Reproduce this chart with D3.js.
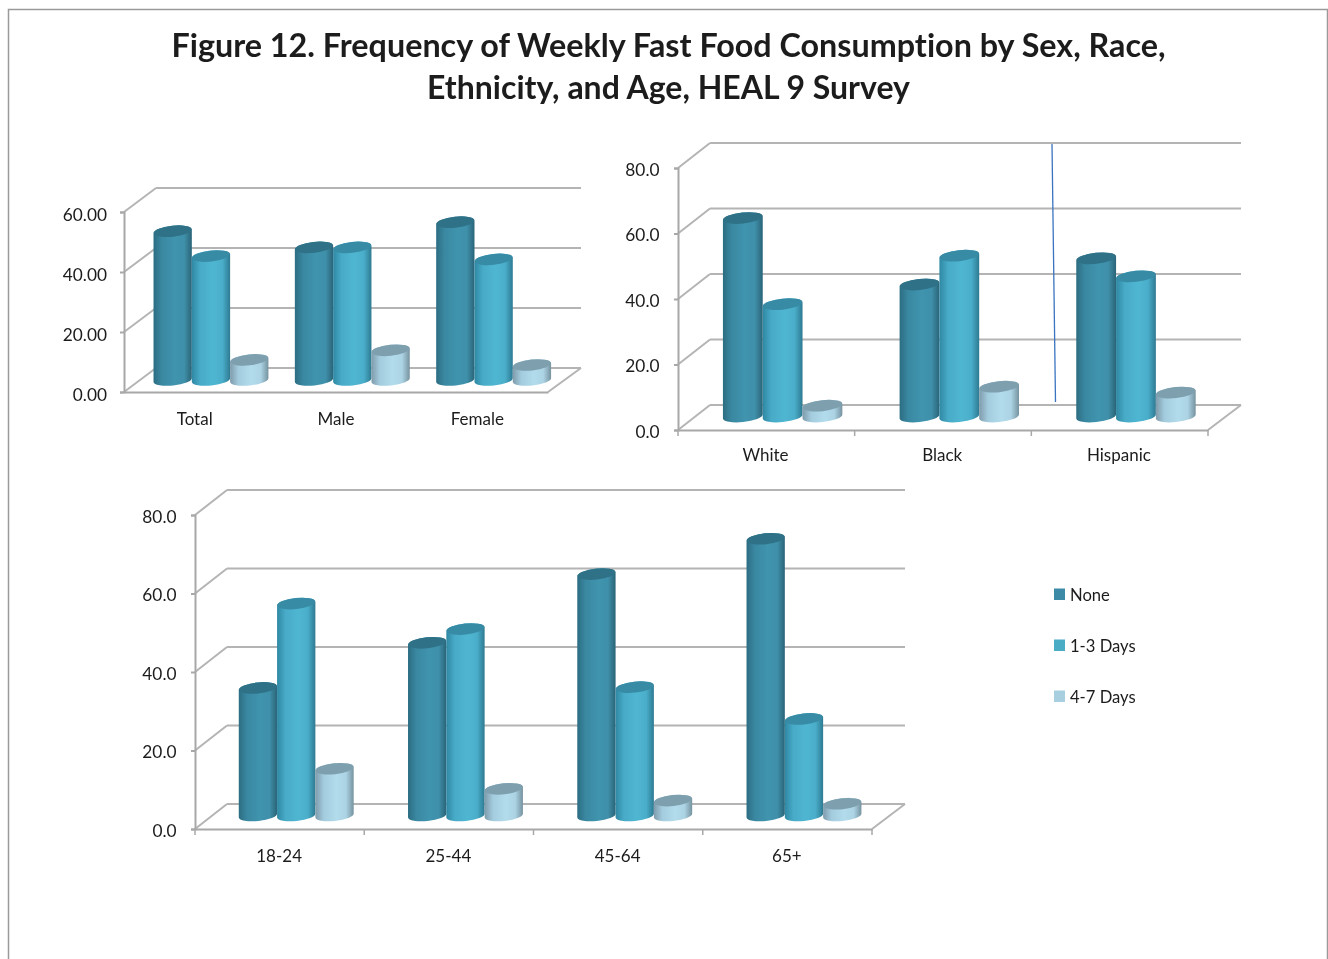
<!DOCTYPE html>
<html>
<head>
<meta charset="utf-8">
<script src="https://cdn.jsdelivr.net/npm/d3@7"></script>
<style>
  html, body { margin: 0; padding: 0; background: #fff; overflow: hidden; }
  text { font-family: Lato, "Open Sans", sans-serif; fill: #1c1c1c; font-variant-ligatures: none; }
</style>
</head>
<body>
<script>
const seriesNames = ['None', '1-3 Days', '4-7 Days'];

const sexCats = ['Total', 'Male', 'Female'];
const sexNone = [49.6, 44.2, 52.6];
const sexMid = [41.3, 44.2, 40.2];
const sexHigh = [6.7, 9.9, 5.0];
const sexTicks = [0, 20, 40, 60];

const raceCats = ['White', 'Black', 'Hispanic'];
const raceNone = [60.6, 40.3, 48.3];
const raceMid = [34.3, 49.1, 42.8];
const raceHigh = [3.3, 9.1, 7.3];
const raceTicks = [0, 20, 40, 60, 80];

const ageCats = ['18-24', '25-44', '45-64', '65+'];
const ageNone = [32.5, 44.0, 61.5, 70.5];
const ageMid = [54.0, 47.5, 32.7, 24.6];
const ageHigh = [11.9, 6.8, 3.8, 3.0];
const ageTicks = [0, 20, 40, 60, 80];

const w = 1328;
const h = 959;
const gridColor = '#b4b4b4';

const svg = d3.select('body').append('svg')
              .attr('width', w)
              .attr('height', h)
              .style('display', 'block')
              .style('filter', 'blur(0.4px)');

const defs = svg.append('defs');

const shades = [
  { top: '#2f7186', stops: ['#2c6d82', '#3a88a2', '#4094ae', '#3f90aa', '#2a6478'], key: '#3c8aa5' },
  { top: '#388ba5', stops: ['#2f88a3', '#48abc8', '#4fb6d2', '#4aaeca', '#2e7a92'], key: '#4bacc6' },
  { top: '#7e9fae', stops: ['#7f9bab', '#a3ccde', '#b2dbec', '#abd3e4', '#76929f'], key: '#a8cfdf' }
];

shades.forEach((s, i) => {
  const g = defs.append('linearGradient').attr('id', 'cyl' + i);
  [0, 0.22, 0.55, 0.8, 1].forEach((o, j) => {
    g.append('stop').attr('offset', o).attr('stop-color', s.stops[j]);
  });
});

// outer frame, runs off the bottom of the page
svg.append('path')
   .attr('d', `M8.5,${h}V9.5H1327.5V${h}`)
   .attr('fill', 'none')
   .attr('stroke', '#9a9a9a')
   .attr('stroke-width', 1.5);

svg.append('text')
   .attr('x', 668.5).attr('y', 56.5)
   .attr('text-anchor', 'middle')
   .attr('font-size', 32.3).attr('font-weight', 700)
   .text('Figure 12. Frequency of Weekly Fast Food Consumption by Sex, Race,');
svg.append('text')
   .attr('x', 668.5).attr('y', 98.5)
   .attr('text-anchor', 'middle')
   .attr('font-size', 32).attr('font-weight', 700)
   .text('Ethnicity, and Age, HEAL 9 Survey');

function drawPanel(p) {
  const g = svg.append('g');
  const y = d3.scaleLinear().domain([0, p.max]).range([p.bottom, p.top]);
  const x = d3.scaleBand().domain(p.cats).range([p.left, p.right]);

  // back wall and side wall
  p.ticks.forEach(t => {
    g.append('line')
     .attr('x1', p.left).attr('y1', y(t))
     .attr('x2', p.left + p.dx).attr('y2', y(t) - p.dy)
     .attr('stroke', gridColor).attr('stroke-width', 2);
    g.append('line')
     .attr('x1', p.left + p.dx).attr('y1', y(t) - p.dy)
     .attr('x2', p.right + p.dx + 1).attr('y2', y(t) - p.dy)
     .attr('stroke', gridColor).attr('stroke-width', 2);
  });
  g.append('line')
   .attr('x1', p.right).attr('y1', p.bottom)
   .attr('x2', p.right + p.dx + 1).attr('y2', p.bottom - p.dy)
   .attr('stroke', gridColor).attr('stroke-width', 2);

  const yAxis = d3.axisLeft(y)
                  .tickValues(p.ticks)
                  .tickSize(4)
                  .tickPadding(p.labelPad)
                  .tickFormat(d3.format(p.fmt));
  const ya = g.append('g')
              .attr('transform', `translate(${p.left},0)`)
              .call(yAxis);
  ya.selectAll('text').attr('font-size', 17.3).attr('dy', '0.32em')
    .attr('transform', `translate(0,${p.labelDy})`);
  ya.selectAll('line,path').attr('stroke', '#a8a8a8').attr('stroke-width', 2);

  const xAxis = d3.axisBottom(x).tickSize(0).tickPadding(p.catPad);
  const xa = g.append('g')
              .attr('transform', `translate(0,${p.bottom})`)
              .call(xAxis);
  xa.select('.domain').attr('stroke', '#a8a8a8').attr('stroke-width', 2);
  xa.selectAll('text').attr('font-size', 17).attr('transform', `translate(${p.catDx},0)`);

  if (p.catTicks) {
    const edges = p.cats.map(c => x(c)).concat(p.right);
    g.selectAll(null).data(edges).enter().append('line')
     .attr('x1', d => d).attr('x2', d => d)
     .attr('y1', p.bottom).attr('y2', p.bottom + 6)
     .attr('stroke', '#a8a8a8').attr('stroke-width', 1.5);
  }

  // cylinders stand half way back on the floor
  const sub = d3.scaleBand().domain(d3.range(3))
                .range([x.bandwidth() / 2 - 1.5 * p.barW, x.bandwidth() / 2 + 1.5 * p.barW]);
  const baseY = v => y(v) - p.dy / 2 - p.baseLift;
  const r = p.barW / 2;
  const ry = 5.5;
  const tilt = 2;

  // drawn left to right so each bar overlaps the previous one
  p.cats.forEach((c, ci) => {
    p.series.forEach((vals, si) => {
      const cx = x(c) + p.dx / 2 + p.barDx + sub(si) + sub.bandwidth() / 2;
      const top = baseY(vals[ci]);
      const bot = baseY(0);
      g.append('path')
       .attr('d', `M${cx - r},${top + tilt}L${cx - r},${bot + tilt}`
                + `A${r},${ry} -6 0 0 ${cx + r},${bot - tilt}`
                + `L${cx + r},${top - tilt}`
                + `A${r},${ry} -6 0 0 ${cx - r},${top + tilt}Z`)
       .attr('fill', `url(#cyl${si})`);
      g.append('ellipse')
       .attr('cx', cx).attr('cy', top)
       .attr('rx', r - 0.3).attr('ry', ry)
       .attr('transform', `rotate(-6 ${cx} ${top})`)
       .attr('fill', shades[si].top);
    });
  });
}

drawPanel({
  cats: sexCats, series: [sexNone, sexMid, sexHigh], ticks: sexTicks, max: 60, fmt: '.2f',
  left: 124, right: 548, top: 212, bottom: 392, dx: 32, dy: 24,
  barW: 38.3, barDx: 0.3, baseLift: 0, labelPad: 13, labelDy: 3, catPad: 21, catDx: 0, catTicks: false
});

drawPanel({
  cats: raceCats, series: [raceNone, raceMid, raceHigh], ticks: raceTicks, max: 80, fmt: '.1f',
  left: 678, right: 1208, top: 168, bottom: 430, dx: 32, dy: 25,
  barW: 39.8, barDx: 0.3, baseLift: 1, labelPad: 14.5, labelDy: 1.5, catPad: 19, catDx: -0.8, catTicks: true
});

drawPanel({
  cats: ageCats, series: [ageNone, ageMid, ageHigh], ticks: ageTicks, max: 80, fmt: '.1f',
  left: 195, right: 872, top: 515, bottom: 829, dx: 32, dy: 25,
  barW: 38.3, barDx: 0.6, baseLift: 1, labelPad: 14.5, labelDy: 1.5, catPad: 21, catDx: -0.5, catTicks: true
});

// stray drawn line in the source figure
svg.append('line')
   .attr('x1', 1052).attr('y1', 144)
   .attr('x2', 1055.5).attr('y2', 402)
   .attr('stroke', '#3a74c0').attr('stroke-width', 1.3);

const legend = svg.append('g').attr('id', 'legend');
seriesNames.forEach((name, i) => {
  const ly = 594.5 + i * 51;
  legend.append('rect')
        .attr('x', 1054).attr('y', ly - 6)
        .attr('width', 11).attr('height', 11.5)
        .attr('fill', shades[i].key);
  legend.append('text')
        .attr('x', 1070).attr('y', ly + 6.5)
        .attr('font-size', 16.6)
        .text(name);
});
</script>
</body>
</html>
